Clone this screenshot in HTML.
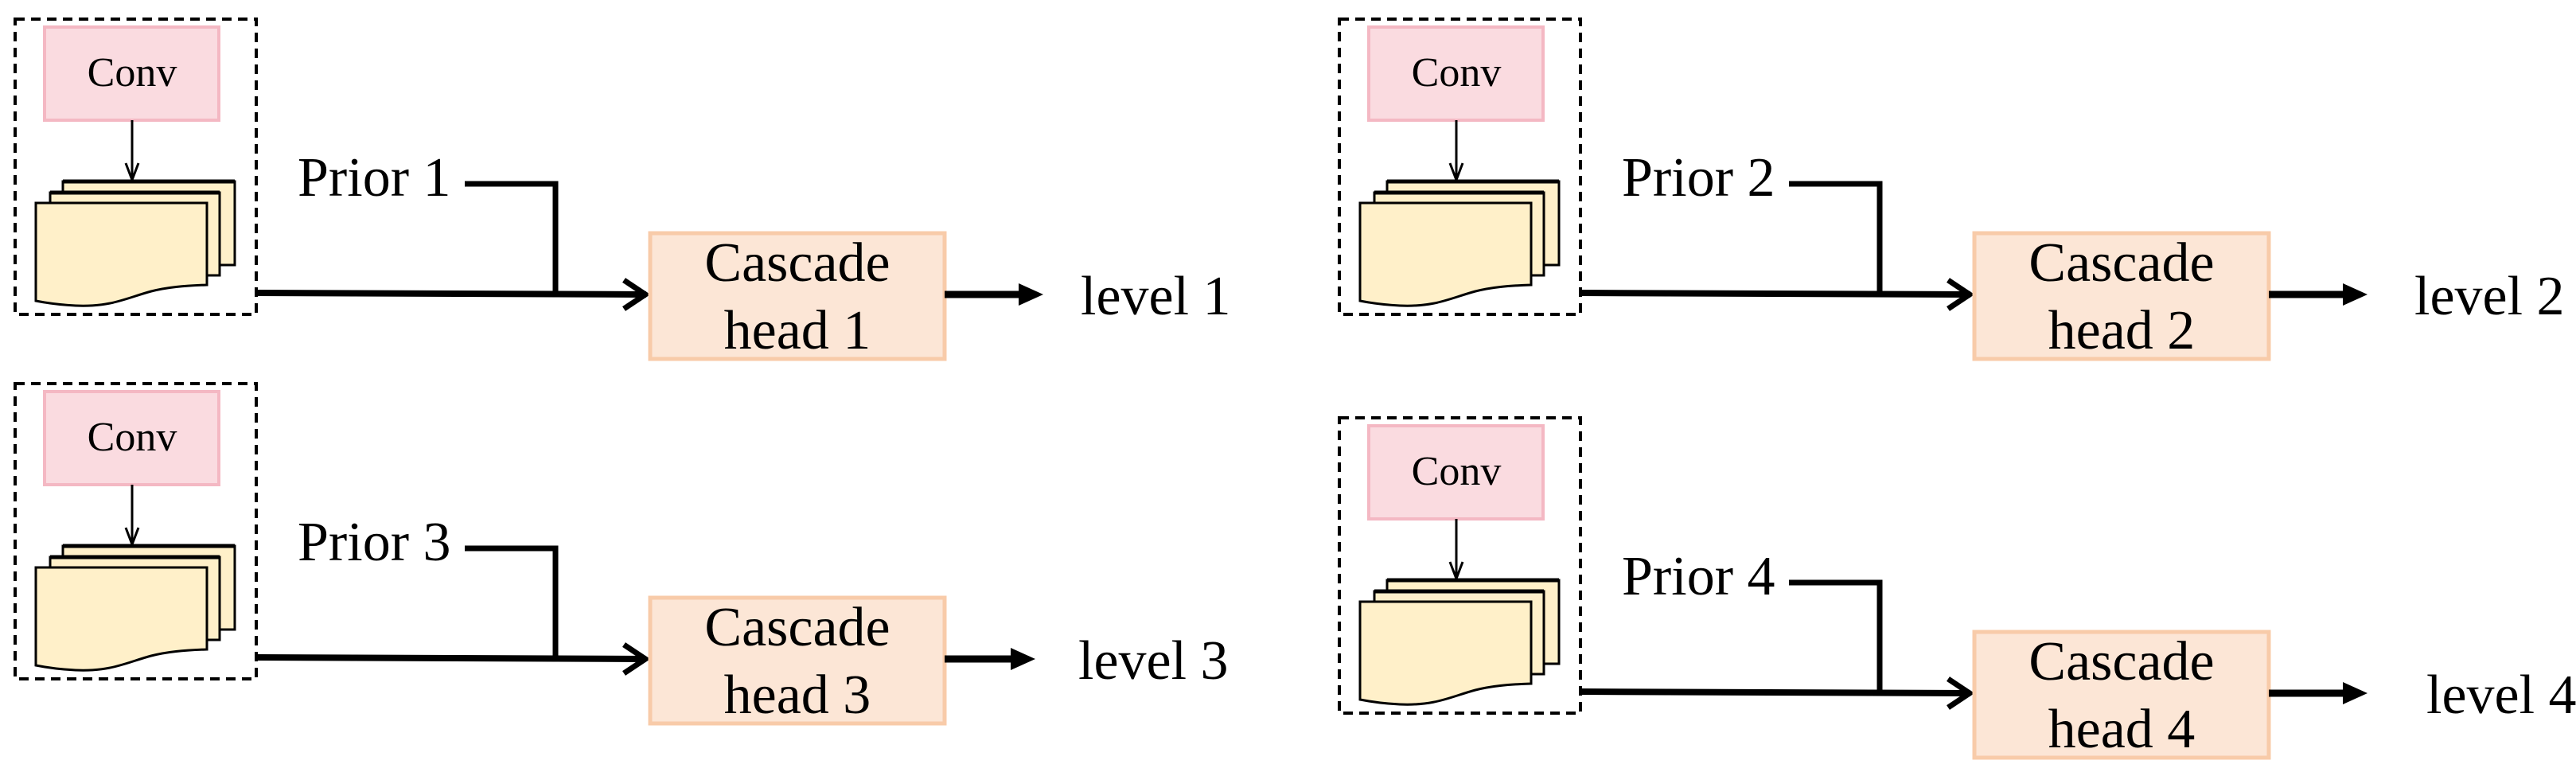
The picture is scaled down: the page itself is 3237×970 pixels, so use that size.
<!DOCTYPE html>
<html><head><meta charset="utf-8"><style>
html,body{margin:0;padding:0;background:#fff;}
svg{display:block;}
text{font-family:"Liberation Serif",serif;fill:#000;}
</style></head><body>
<svg width="3237" height="970" viewBox="0 0 3237 970" xmlns="http://www.w3.org/2000/svg">

<g>
  <rect x="19" y="24" width="303" height="371" fill="none" stroke="#000" stroke-width="4" stroke-dasharray="12,8"/>
  <rect x="56" y="34" width="219" height="117" fill="#fadbe0" stroke="#f4b8c3" stroke-width="4"/>
  <text x="166" y="108" font-size="52" text-anchor="middle">Conv</text>
  <line x1="166" y1="151" x2="166" y2="225" stroke="#000" stroke-width="3"/>
  <polyline points="158,205 166,226 174,205" fill="none" stroke="#000" stroke-width="3"/>
  <rect x="79" y="228" width="216" height="105" fill="#fff0c9" stroke="#000" stroke-width="3"/>
  <line x1="79" y1="228" x2="295" y2="228" stroke="#000" stroke-width="5"/>
  <rect x="63" y="242" width="213" height="104" fill="#fff0c9" stroke="#000" stroke-width="3"/>
  <line x1="63" y1="242" x2="276" y2="242" stroke="#000" stroke-width="5"/>
  <path d="M45,255 H260 V358 C230,359 210,361 190,366 C160,374 140,386 95,384 C75,383 60,381 45,378 Z" fill="#fff0c9" stroke="#000" stroke-width="3"/>
  <line x1="322" y1="368" x2="812" y2="370" stroke="#000" stroke-width="8"/>
  <polyline points="784,352 811,370 784,388" fill="none" stroke="#000" stroke-width="7"/>
  <polyline points="584,231 698,231 698,372" fill="none" stroke="#000" stroke-width="7"/>
  <rect x="817" y="293" width="370" height="158" fill="#fce6d6" stroke="#f8cba9" stroke-width="5"/>
  <text x="1002" y="353" font-size="70" text-anchor="middle">Cascade</text>
  <text x="1002" y="438" font-size="70" text-anchor="middle">head 1</text>
  <line x1="1187" y1="370" x2="1285" y2="370" stroke="#000" stroke-width="9"/>
  <polygon points="1280,356 1311,370 1280,384" fill="#000"/>
  <text x="374" y="246" font-size="70">Prior 1</text>
  <text x="1358" y="395" font-size="70">level 1</text>
</g>

<g transform="translate(1664,0)">
  <rect x="19" y="24" width="303" height="371" fill="none" stroke="#000" stroke-width="4" stroke-dasharray="12,8"/>
  <rect x="56" y="34" width="219" height="117" fill="#fadbe0" stroke="#f4b8c3" stroke-width="4"/>
  <text x="166" y="108" font-size="52" text-anchor="middle">Conv</text>
  <line x1="166" y1="151" x2="166" y2="225" stroke="#000" stroke-width="3"/>
  <polyline points="158,205 166,226 174,205" fill="none" stroke="#000" stroke-width="3"/>
  <rect x="79" y="228" width="216" height="105" fill="#fff0c9" stroke="#000" stroke-width="3"/>
  <line x1="79" y1="228" x2="295" y2="228" stroke="#000" stroke-width="5"/>
  <rect x="63" y="242" width="213" height="104" fill="#fff0c9" stroke="#000" stroke-width="3"/>
  <line x1="63" y1="242" x2="276" y2="242" stroke="#000" stroke-width="5"/>
  <path d="M45,255 H260 V358 C230,359 210,361 190,366 C160,374 140,386 95,384 C75,383 60,381 45,378 Z" fill="#fff0c9" stroke="#000" stroke-width="3"/>
  <line x1="322" y1="368" x2="812" y2="370" stroke="#000" stroke-width="8"/>
  <polyline points="784,352 811,370 784,388" fill="none" stroke="#000" stroke-width="7"/>
  <polyline points="584,231 698,231 698,372" fill="none" stroke="#000" stroke-width="7"/>
  <rect x="817" y="293" width="370" height="158" fill="#fce6d6" stroke="#f8cba9" stroke-width="5"/>
  <text x="1002" y="353" font-size="70" text-anchor="middle">Cascade</text>
  <text x="1002" y="438" font-size="70" text-anchor="middle">head 2</text>
  <line x1="1187" y1="370" x2="1285" y2="370" stroke="#000" stroke-width="9"/>
  <polygon points="1280,356 1311,370 1280,384" fill="#000"/>
  <text x="374" y="246" font-size="70">Prior 2</text>
  <text x="1370" y="395" font-size="70">level 2</text>
</g>

<g transform="translate(0,458)">
  <rect x="19" y="24" width="303" height="371" fill="none" stroke="#000" stroke-width="4" stroke-dasharray="12,8"/>
  <rect x="56" y="34" width="219" height="117" fill="#fadbe0" stroke="#f4b8c3" stroke-width="4"/>
  <text x="166" y="108" font-size="52" text-anchor="middle">Conv</text>
  <line x1="166" y1="151" x2="166" y2="225" stroke="#000" stroke-width="3"/>
  <polyline points="158,205 166,226 174,205" fill="none" stroke="#000" stroke-width="3"/>
  <rect x="79" y="228" width="216" height="105" fill="#fff0c9" stroke="#000" stroke-width="3"/>
  <line x1="79" y1="228" x2="295" y2="228" stroke="#000" stroke-width="5"/>
  <rect x="63" y="242" width="213" height="104" fill="#fff0c9" stroke="#000" stroke-width="3"/>
  <line x1="63" y1="242" x2="276" y2="242" stroke="#000" stroke-width="5"/>
  <path d="M45,255 H260 V358 C230,359 210,361 190,366 C160,374 140,386 95,384 C75,383 60,381 45,378 Z" fill="#fff0c9" stroke="#000" stroke-width="3"/>
  <line x1="322" y1="368" x2="812" y2="370" stroke="#000" stroke-width="8"/>
  <polyline points="784,352 811,370 784,388" fill="none" stroke="#000" stroke-width="7"/>
  <polyline points="584,231 698,231 698,372" fill="none" stroke="#000" stroke-width="7"/>
  <rect x="817" y="293" width="370" height="158" fill="#fce6d6" stroke="#f8cba9" stroke-width="5"/>
  <text x="1002" y="353" font-size="70" text-anchor="middle">Cascade</text>
  <text x="1002" y="438" font-size="70" text-anchor="middle">head 3</text>
  <line x1="1187" y1="370" x2="1275" y2="370" stroke="#000" stroke-width="9"/>
  <polygon points="1270,356 1301,370 1270,384" fill="#000"/>
  <text x="374" y="246" font-size="70">Prior 3</text>
  <text x="1355" y="395" font-size="70">level 3</text>
</g>

<g transform="translate(1664,501)">
  <rect x="19" y="24" width="303" height="371" fill="none" stroke="#000" stroke-width="4" stroke-dasharray="12,8"/>
  <rect x="56" y="34" width="219" height="117" fill="#fadbe0" stroke="#f4b8c3" stroke-width="4"/>
  <text x="166" y="108" font-size="52" text-anchor="middle">Conv</text>
  <line x1="166" y1="151" x2="166" y2="225" stroke="#000" stroke-width="3"/>
  <polyline points="158,205 166,226 174,205" fill="none" stroke="#000" stroke-width="3"/>
  <rect x="79" y="228" width="216" height="105" fill="#fff0c9" stroke="#000" stroke-width="3"/>
  <line x1="79" y1="228" x2="295" y2="228" stroke="#000" stroke-width="5"/>
  <rect x="63" y="242" width="213" height="104" fill="#fff0c9" stroke="#000" stroke-width="3"/>
  <line x1="63" y1="242" x2="276" y2="242" stroke="#000" stroke-width="5"/>
  <path d="M45,255 H260 V358 C230,359 210,361 190,366 C160,374 140,386 95,384 C75,383 60,381 45,378 Z" fill="#fff0c9" stroke="#000" stroke-width="3"/>
  <line x1="322" y1="368" x2="812" y2="370" stroke="#000" stroke-width="8"/>
  <polyline points="784,352 811,370 784,388" fill="none" stroke="#000" stroke-width="7"/>
  <polyline points="584,231 698,231 698,372" fill="none" stroke="#000" stroke-width="7"/>
  <rect x="817" y="293" width="370" height="158" fill="#fce6d6" stroke="#f8cba9" stroke-width="5"/>
  <text x="1002" y="353" font-size="70" text-anchor="middle">Cascade</text>
  <text x="1002" y="438" font-size="70" text-anchor="middle">head 4</text>
  <line x1="1187" y1="370" x2="1285" y2="370" stroke="#000" stroke-width="9"/>
  <polygon points="1280,356 1311,370 1280,384" fill="#000"/>
  <text x="374" y="246" font-size="70">Prior 4</text>
  <text x="1385" y="395" font-size="70">level 4</text>
</g>

</svg>
</body></html>
